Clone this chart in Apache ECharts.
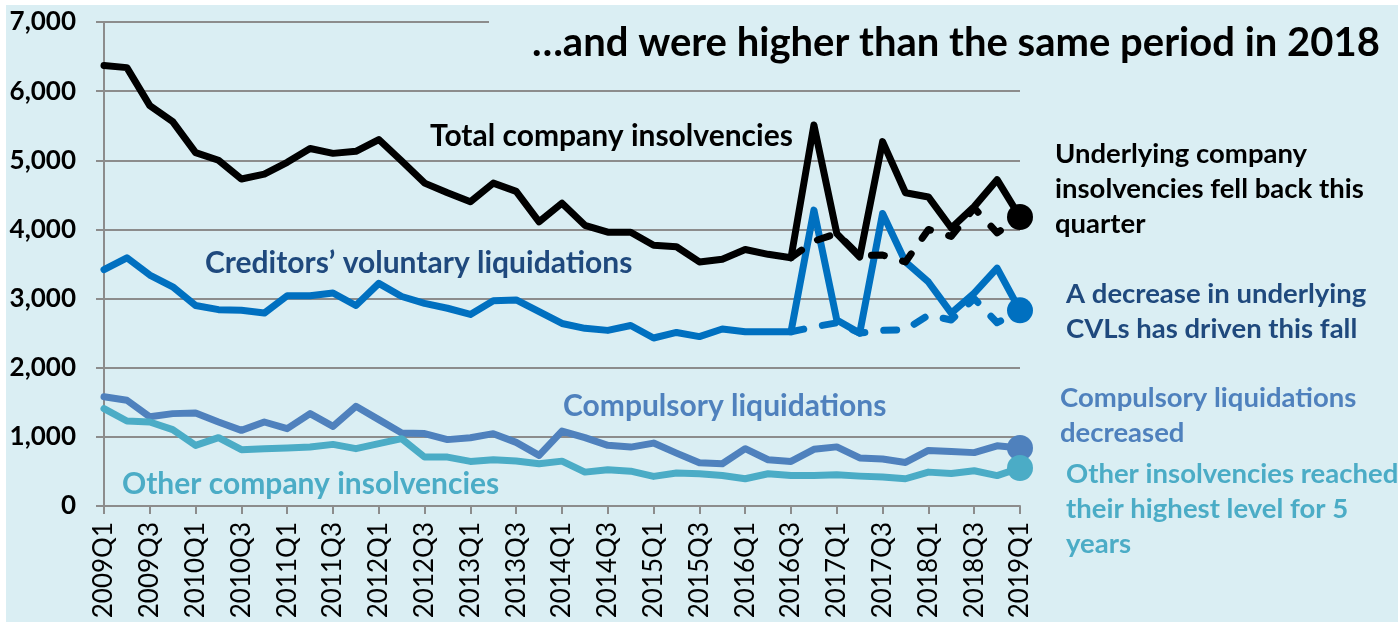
<!DOCTYPE html>
<html>
<head>
<meta charset="utf-8">
<script src="https://cdn.jsdelivr.net/npm/echarts@6/dist/echarts.min.js"></script>
<style>
html, body { margin: 0; padding: 0; background: #fff; }
#bg { position: absolute; left: 6px; top: 5px; width: 1392px; height: 617px; background: #DAEEF3; }
#chart { position: absolute; left: 0; top: 0; width: 1398px; height: 625px; }
</style>
</head>
<body>
<div id="bg"></div>
<div id="chart"></div>
<script>
// quarters on the x axis
const quarters = [
  '2009Q1','2009Q2','2009Q3','2009Q4','2010Q1','2010Q2','2010Q3','2010Q4',
  '2011Q1','2011Q2','2011Q3','2011Q4','2012Q1','2012Q2','2012Q3','2012Q4',
  '2013Q1','2013Q2','2013Q3','2013Q4','2014Q1','2014Q2','2014Q3','2014Q4',
  '2015Q1','2015Q2','2015Q3','2015Q4','2016Q1','2016Q2','2016Q3','2016Q4',
  '2017Q1','2017Q2','2017Q3','2017Q4','2018Q1','2018Q2','2018Q3','2018Q4',
  '2019Q1'
];

const totalInsolvencies = [
  6370, 6340, 5790, 5560, 5110, 5000, 4730, 4800, 4970, 5170, 5100,
  5130, 5300, 4990, 4670, 4530, 4400, 4670, 4550, 4110, 4380, 4060,
  3960, 3960, 3770, 3750, 3530, 3570, 3710, 3640, 3590, 5510, 3940,
  3600, 5270, 4530, 4470, 4020, 4330, 4720, 4180
];
const underlyingTotal = [
  null, null, null, null, null, null, null, null, null, null,
  null, null, null, null, null, null, null, null, null, null,
  null, null, null, null, null, null, null, null, null, null,
  3590, 3830, 3940, 3620, 3630, 3530, 4000, 3900, 4310, 3950, 4180
];
const cvl = [
  3420, 3590, 3340, 3170, 2900, 2840, 2830, 2790, 3040, 3040, 3080,
  2900, 3220, 3030, 2930, 2860, 2770, 2970, 2980, 2810, 2640, 2570,
  2540, 2610, 2430, 2510, 2450, 2560, 2520, 2520, 2520, 4280, 2690,
  2500, 4230, 3530, 3240, 2790, 3080, 3440, 2830
];
const underlyingCvl = [
  null, null, null, null, null, null, null, null, null, null,
  null, null, null, null, null, null, null, null, null, null,
  null, null, null, null, null, null, null, null, null, null,
  2520, 2590, 2650, 2500, 2540, 2550, 2760, 2690, 3000, 2650, 2830
];
const compulsory = [
  1580, 1530, 1290, 1336, 1345, 1215, 1094, 1215, 1119, 1336, 1152,
  1442, 1249, 1055, 1048, 960, 988, 1046, 920, 732, 1084, 988,
  877, 852, 910, 765, 626, 611, 829, 669, 645, 820, 855,
  695, 680, 630, 804, 787, 772, 870, 840
];
const otherInsolvencies = [
  1409, 1229, 1215, 1104, 877, 988, 814, 829, 838, 852, 891,
  829, 901, 974, 707, 707, 645, 669, 650, 611, 649, 490,
  525, 504, 428, 476, 467, 442, 394, 467, 442, 442, 452,
  432, 418, 394, 490, 470, 510, 440, 550
];

const BG = '#DAEEF3';
const GRID = '#8c8c8c';
const FONT = 'Lato';

// put a big dot on the last point of a series
function endDot(arr, color) {
  return arr.map(function (v, i) {
    if (i === arr.length - 1) {
      return { value: v, symbol: 'circle', symbolSize: 26, itemStyle: { color: color } };
    }
    return v;
  });
}

function lineSeries(name, data, color, dashed, dot) {
  return {
    name: name,
    type: 'line',
    data: dot ? endDot(data, color) : data,
    symbol: 'none',
    showAllSymbol: true,
    silent: true,
    lineStyle: {
      color: color,
      width: 7,
      type: dashed ? [13, 19] : 'solid',
      cap: 'round',
      join: 'round'
    },
    itemStyle: { color: color }
  };
}

function label(text, x, y, size, color, multi) {
  return {
    type: 'text',
    x: x,
    y: y,
    z: 10,
    silent: true,
    style: {
      text: text,
      fill: color,
      font: 'bold ' + size + 'px ' + FONT,
      align: 'left',
      textAlign: 'left',
      verticalAlign: multi ? 'top' : 'middle',
      textVerticalAlign: multi ? 'top' : 'middle',
      lineHeight: 35
    }
  };
}

const chart = echarts.init(document.getElementById('chart'));
chart.setOption({
  backgroundColor: 'transparent',
  animation: false,
  textStyle: { fontFamily: FONT },
  grid: { left: 104, right: 378, top: 22, bottom: 119, containLabel: false, outerBoundsMode: 'none' },
  xAxis: {
    type: 'category',
    data: quarters,
    boundaryGap: false,
    axisLine: { lineStyle: { color: GRID, width: 2 } },
    axisTick: { show: true, interval: 1, length: 8, lineStyle: { color: GRID, width: 2 } },
    axisLabel: { interval: 1, rotate: 90, fontSize: 26, color: '#000', margin: 16, fontFamily: FONT },
    splitLine: { show: false }
  },
  yAxis: {
    type: 'value',
    min: 0,
    max: 7000,
    interval: 1000,
    axisLine: { show: true, lineStyle: { color: GRID, width: 2 } },
    axisTick: { show: true, length: 8, lineStyle: { color: GRID, width: 2 } },
    axisLabel: {
      fontSize: 26, fontWeight: 'bold', color: '#000', margin: 28, fontFamily: FONT,
      formatter: function (v) { return v.toLocaleString('en-US'); }
    },
    splitLine: { lineStyle: { color: GRID, width: 2 } }
  },
  graphic: [
    // the title box hides the top gridline
    { type: 'rect', z: 1, silent: true, shape: { x: 489, y: 8, width: 909, height: 40 }, style: { fill: BG } },
    label('\u2026and were higher than the same period in 2018', 532, 43, 40, '#000'),
    label('Total company insolvencies', 430, 136, 30, '#000'),
    label('Creditors\u2019 voluntary liquidations', 205, 263, 30, '#1F497D'),
    label('Compulsory liquidations', 563, 406, 30, '#4F81BD'),
    label('Other company insolvencies', 122, 484, 30, '#4BACC6'),
    label('Underlying company\ninsolvencies fell back this\nquarter', 1055, 137, 27.5, '#000', true),
    label('A decrease in underlying\nCVLs has driven this fall', 1066, 277, 27.5, '#1F497D', true),
    label('Compulsory liquidations\ndecreased', 1060, 381, 27.5, '#4F81BD', true),
    label('Other insolvencies reached\ntheir highest level for 5\nyears', 1066, 457, 27.5, '#4BACC6', true)
  ],
  series: [
    lineSeries('Compulsory liquidations', compulsory, '#4F81BD', false, true),
    lineSeries('Other company insolvencies', otherInsolvencies, '#4BACC6', false, true),
    lineSeries('Creditors\u2019 voluntary liquidations', cvl, '#0070C0', false, false),
    lineSeries('Underlying CVLs', underlyingCvl, '#0070C0', true, true),
    lineSeries('Total company insolvencies', totalInsolvencies, '#000000', false, false),
    lineSeries('Underlying company insolvencies', underlyingTotal, '#000000', true, true)
  ]
});
</script>
</body>
</html>
